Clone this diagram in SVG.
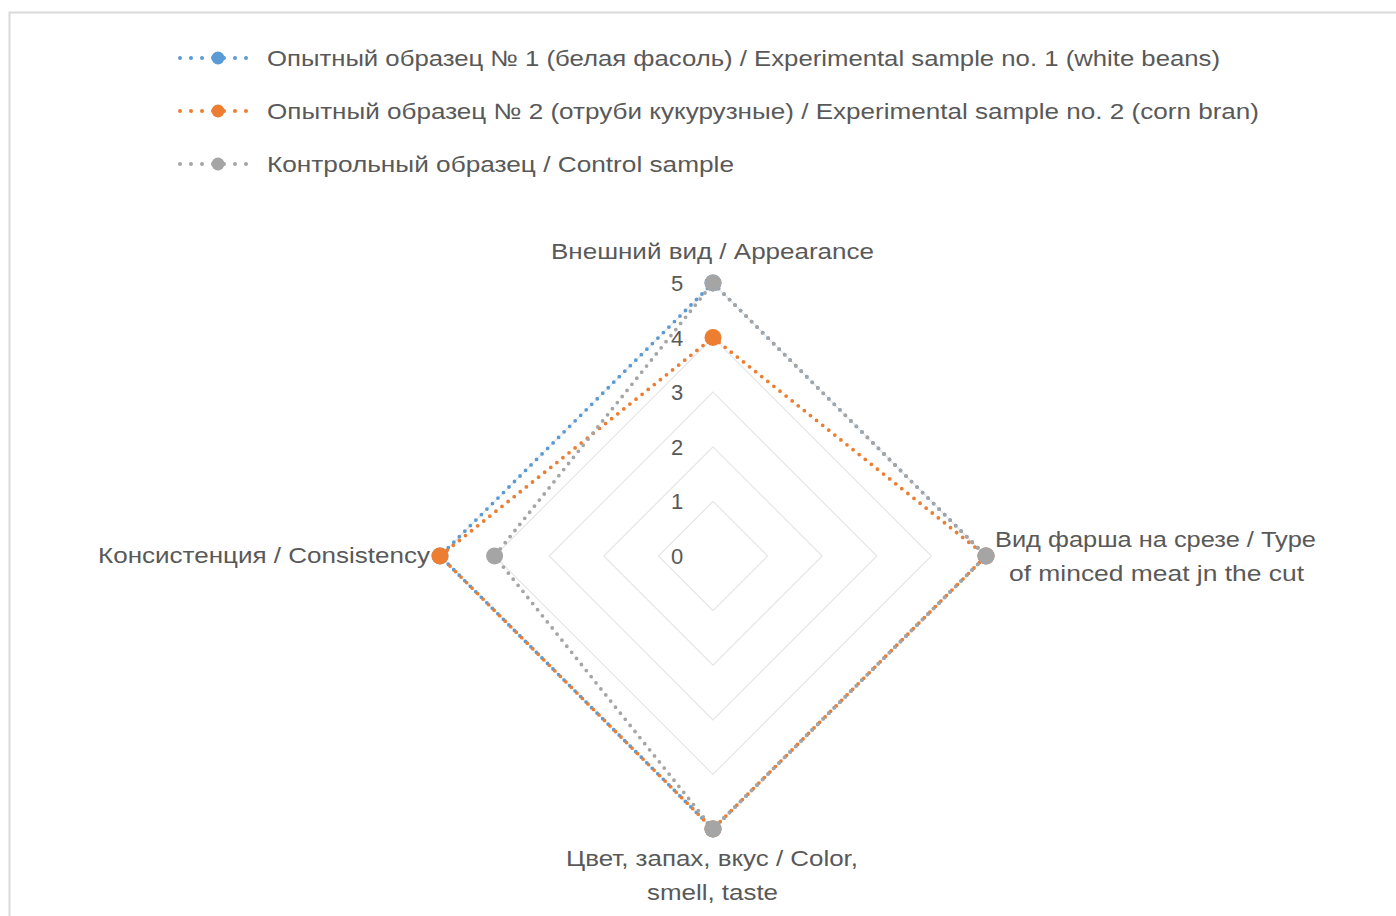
<svg xmlns="http://www.w3.org/2000/svg" width="1396" height="916" viewBox="0 0 1396 916">
<defs>
<style>
.t{font-family:"Liberation Sans",Arial,sans-serif;font-size:22px;fill:#595959}
.g{fill:none;stroke:#e6e6e6;stroke-width:1.2}
.s{fill:none;stroke-width:3.8;stroke-linecap:round;stroke-dasharray:0 7.8;stroke-linejoin:round}
.l{fill:none;stroke-width:4;stroke-linecap:round;stroke-dasharray:0 11}
.b{stroke:#5b9bd5}.o{stroke:#ed7d31}.k{stroke:#a5a5a5}
.fb{fill:#5b9bd5}.fo{fill:#ed7d31}.fk{fill:#a5a5a5}
</style>
</defs>
<rect x="0" y="0" width="1396" height="916" fill="#fff"/>
<rect x="9.5" y="12.5" width="1400" height="920" fill="#fff" stroke="#d9d9d9" stroke-width="2"/>
<g id="legend">
<g id="legend-1">
<line class="l b" x1="180" y1="58" x2="247" y2="58"/>
<circle class="fb" cx="218" cy="58" r="6.5"/>
<text class="t" x="267" y="66" textLength="953" lengthAdjust="spacingAndGlyphs">Опытный образец № 1 (белая фасоль) / Experimental  sample no. 1 (white beans)</text>
</g>
<g id="legend-2">
<line class="l o" x1="180" y1="111" x2="247" y2="111"/>
<circle class="fo" cx="218" cy="111" r="6.5"/>
<text class="t" x="267" y="119" textLength="992" lengthAdjust="spacingAndGlyphs">Опытный образец № 2 (отруби кукурузные) / Experimental sample no. 2 (corn bran)</text>
</g>
<g id="legend-3">
<line class="l k" x1="180" y1="164" x2="247" y2="164"/>
<circle class="fk" cx="218" cy="164" r="6.5"/>
<text class="t" x="267" y="172" textLength="467" lengthAdjust="spacingAndGlyphs">Контрольный образец / Control sample</text>
</g>
</g>
<g id="grid">
<polygon class="g" points="713,501.4 767.6,556 713,610.6 658.4,556"/>
<polygon class="g" points="713,446.8 822.2,556 713,665.2 603.8,556"/>
<polygon class="g" points="713,392.2 876.8,556 713,719.8 549.2,556"/>
<polygon class="g" points="713,337.6 931.4,556 713,774.4 494.6,556"/>
<polygon class="g" points="713,283 986,556 713,829 440,556"/>
</g>
<g id="axis-labels">
<text class="t" x="677" y="564" text-anchor="middle">0</text>
<text class="t" x="677" y="509" text-anchor="middle">1</text>
<text class="t" x="677" y="455" text-anchor="middle">2</text>
<text class="t" x="677" y="400" text-anchor="middle">3</text>
<text class="t" x="677" y="346" text-anchor="middle">4</text>
<text class="t" x="677" y="291" text-anchor="middle">5</text>
</g>
<g id="connectors">
<polygon class="s b" points="713,283 986,556 713,829 440,556"/>
<polygon class="s o" points="713,337.6 986,556 713,829 440,556"/>
<polygon class="s k" points="713,283 986,556 713,829 494.6,556"/>
</g>
<g id="markers">
<circle class="fb" cx="713" cy="283" r="8.5"/><circle class="fb" cx="986" cy="556" r="8.5"/><circle class="fb" cx="713" cy="829" r="8.5"/><circle class="fb" cx="440" cy="556" r="8.5"/>
<circle class="fo" cx="713" cy="337.6" r="8.5"/><circle class="fo" cx="986" cy="556" r="8.5"/><circle class="fo" cx="713" cy="829" r="8.5"/><circle class="fo" cx="440" cy="556" r="8.5"/>
<circle class="fk" cx="713" cy="283" r="8.5"/><circle class="fk" cx="986" cy="556" r="8.5"/><circle class="fk" cx="713" cy="829" r="8.5"/><circle class="fk" cx="494.6" cy="556" r="8.5"/>
</g>
<g id="node-appearance"><text class="t" x="551" y="259" textLength="323" lengthAdjust="spacingAndGlyphs">Внешний вид / Appearance</text></g>
<g id="node-type"><text class="t" x="995" y="547" textLength="321" lengthAdjust="spacingAndGlyphs">Вид фарша на срезе / Type</text><text class="t" x="1009" y="581" textLength="295" lengthAdjust="spacingAndGlyphs">of minced meat jn the cut</text></g>
<g id="node-consistency"><text class="t" x="98" y="563" textLength="332" lengthAdjust="spacingAndGlyphs">Консистенция / Consistency</text></g>
<g id="node-color"><text class="t" x="566" y="866" textLength="292" lengthAdjust="spacingAndGlyphs">Цвет, запах, вкус / Color,</text><text class="t" x="647" y="900" textLength="131" lengthAdjust="spacingAndGlyphs">smell, taste</text></g>
</svg>
